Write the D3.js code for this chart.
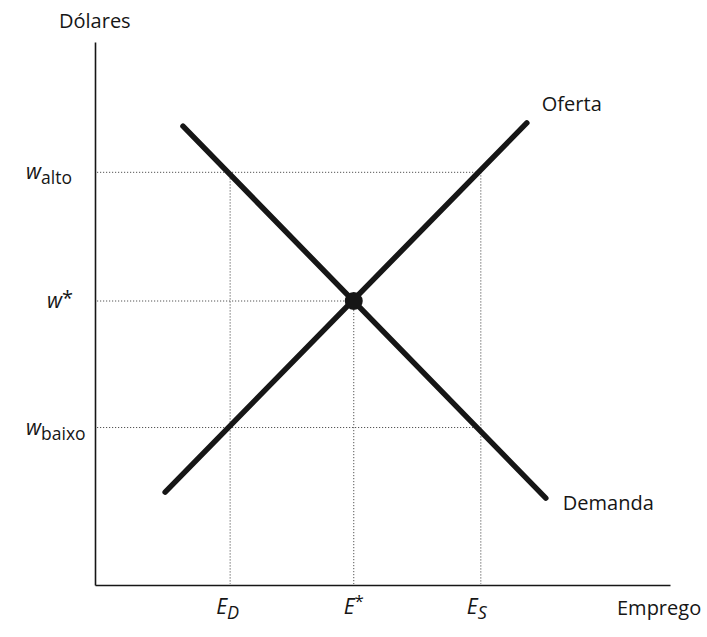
<!DOCTYPE html>
<html>
<head>
<meta charset="utf-8">
<script src="https://cdn.jsdelivr.net/npm/d3@7"></script>
<style>
  html, body { margin: 0; padding: 0; background: #fff; }
  svg { display: block; font-family: "Open Sans", "Noto Sans", sans-serif; }
</style>
</head>
<body>
<svg id="chart" width="707" height="637"></svg>
<script>
// Labour market: supply, demand and the wage levels around equilibrium
const wageLevels = [76, 52.3, 29];            // w alto, w*, w baixo
const wageSubs = ["alto", "*", "baixo"];
const wageReach = [67.1, 45, 67.1];           // how far each wage guide runs right
const employmentLevels = [23.5, 45, 67.1];    // E_D, E*, E_S
const employmentSubs = ["D", "*", "S"];
const employmentReach = [76, 52.3, 76];       // how far each employment guide runs up
const supplyCurve = [[12.2, 17.1], [75.1, 85.1]];
const demandCurve = [[15.3, 84.5], [78.4, 16.0]];
const equilibrium = [45, 52.3];

const svg = d3.select("#chart");
const x = d3.scaleLinear().domain([0, 100]).range([95, 670]);
const y = d3.scaleLinear().domain([0, 100]).range([585, 42]);

const ink = "#161616";

// axes (plain lines, no ticks)
svg.append("g")
  .attr("transform", `translate(${x(0)},0)`)
  .call(d3.axisLeft(y).tickValues([]).tickSizeOuter(0))
  .select(".domain").attr("stroke", ink).attr("stroke-width", 1.6);
svg.append("g")
  .attr("transform", `translate(0,${y(0)})`)
  .call(d3.axisBottom(x).tickValues([]).tickSizeOuter(0))
  .select(".domain").attr("stroke", ink).attr("stroke-width", 1.6);

// dotted guides
const guides = svg.append("g")
  .attr("stroke", "#555").attr("stroke-width", 1)
  .attr("stroke-dasharray", "1.2,1.8").attr("fill", "none");
wageLevels.forEach((w, i) => {
  guides.append("line")
    .attr("x1", x(0) + 2).attr("x2", x(wageReach[i]))
    .attr("y1", y(w)).attr("y2", y(w));
});
employmentLevels.forEach((e, i) => {
  guides.append("line")
    .attr("x1", x(e)).attr("x2", x(e))
    .attr("y1", y(employmentReach[i])).attr("y2", y(0) - 1);
});

// supply and demand curves
const line = d3.line().x(d => x(d[0])).y(d => y(d[1]));
[supplyCurve, demandCurve].forEach(c => {
  svg.append("path").datum(c)
    .attr("d", line)
    .attr("fill", "none")
    .attr("stroke", ink)
    .attr("stroke-width", 5.5)
    .attr("stroke-linecap", "round");
});

// equilibrium point
svg.append("circle")
  .attr("cx", x(equilibrium[0])).attr("cy", y(equilibrium[1]))
  .attr("r", 9).attr("fill", ink);

// curve names
svg.append("text").attr("x", x(supplyCurve[1][0]) + 15).attr("y", 111)
  .attr("font-size", 20).attr("fill", ink).text("Oferta");
svg.append("text").attr("x", x(demandCurve[1][0]) + 17).attr("y", 510)
  .attr("font-size", 20).attr("fill", ink).text("Demanda");

// axis titles
svg.append("text").attr("x", 59).attr("y", 28)
  .attr("font-size", 20).attr("fill", ink).text("Dólares");
svg.append("text").attr("x", 617).attr("y", 615)
  .attr("font-size", 20).attr("fill", ink).text("Emprego");

// wage labels on the vertical axis
wageLevels.forEach((w, i) => {
  const star = wageSubs[i] === "*";
  const t = svg.append("text")
    .attr("x", star ? 47 : 26)
    .attr("y", y(w) + 7)
    .attr("fill", ink).attr("font-size", 21);
  t.append("tspan").attr("font-style", "italic").text("w");
  if (star) {
    t.append("tspan").attr("dy", -3).attr("font-size", 20).text("*");
  } else {
    t.append("tspan").attr("dy", 5).attr("font-size", 17.5).text(wageSubs[i]);
  }
});

// employment labels under the horizontal axis
employmentLevels.forEach((e, i) => {
  const star = employmentSubs[i] === "*";
  const t = svg.append("text")
    .attr("x", x(e) - (star ? 10 : 14))
    .attr("y", 614)
    .attr("fill", ink).attr("font-size", 21);
  t.append("tspan").attr("font-style", "italic").text("E");
  if (star) {
    t.append("tspan").attr("dy", -7).attr("font-size", 17).text("*");
  } else {
    t.append("tspan").attr("dy", 5).attr("font-size", 18)
      .attr("font-style", "italic").text(employmentSubs[i]);
  }
});
</script>
</body>
</html>
